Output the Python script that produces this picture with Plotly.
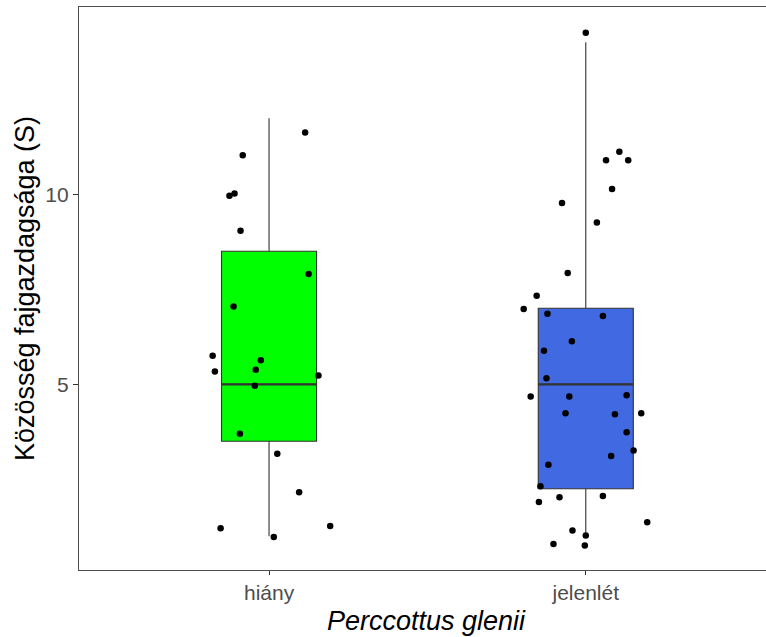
import plotly.graph_objects as go

# ---- data ----
categories = ["hiány", "jelenlét"]
box_colors = ["#00FF00", "#4169E1"]
q1 = [3.5, 2.25]
median = [5.0, 5.0]
q3 = [8.5, 7.0]
lower_whisker = [1.0, 1.0]
upper_whisker = [12.0, 14.0]

# jittered points (x offset from category centre, y value)
hiany_x = [0.114, -0.083, -0.125, -0.109, -0.090, 0.125, -0.112, -0.178, -0.171, -0.026,
           -0.042, -0.045, 0.156, -0.092, 0.026, 0.095, -0.153, 0.193, 0.015]
hiany_y = [11.63, 11.03, 9.96, 10.02, 9.04, 7.90, 7.05, 5.75, 5.34, 5.63,
           5.38, 4.96, 5.23, 3.70, 3.17, 2.16, 1.21, 1.27, 0.98]
jelen_x = [0.0, 0.106, 0.064, 0.134, 0.083, -0.075, 0.035, -0.057, -0.155, -0.196,
           -0.121, 0.054, -0.044, -0.132, -0.124, -0.174, -0.052, 0.129, -0.064, 0.092,
           0.175, 0.129, 0.151, 0.080, -0.118, -0.143, -0.148, -0.083, 0.054, 0.194,
           -0.042, 0.0, -0.102, -0.003]
jelen_y = [14.25, 11.12, 10.90, 10.90, 10.14, 9.77, 9.26, 7.93, 7.33, 6.98,
           6.86, 6.80, 6.13, 5.88, 5.16, 4.68, 4.68, 4.71, 4.24, 4.21,
           4.24, 3.74, 3.26, 3.11, 2.88, 2.32, 1.90, 2.03, 2.06, 1.37,
           1.15, 1.02, 0.80, 0.76]

y_ticks = [5, 10]
x_title = "Perccottus glenii"
y_title = "Közösség fajgazdagsága (S)"

BOX_W = 0.3
FONT = "Liberation Sans, Arial, sans-serif"

fig = go.Figure()
positions = [1, 2]
for i, cat in enumerate(categories):
    fig.add_trace(go.Box(
        x=[positions[i]], q1=[q1[i]], median=[median[i]], q3=[q3[i]],
        lowerfence=[lower_whisker[i]], upperfence=[upper_whisker[i]],
        width=BOX_W, whiskerwidth=0, fillcolor=box_colors[i],
        line=dict(color="#333333", width=1.1), boxpoints=False,
        name=cat, showlegend=False, hoverinfo="skip",
    ))
    # thicker median line (as ggplot)
    fig.add_trace(go.Scatter(
        x=[positions[i] - BOX_W / 2, positions[i] + BOX_W / 2],
        y=[median[i], median[i]], mode="lines",
        line=dict(color="#333333", width=2.2), showlegend=False, hoverinfo="skip",
    ))

fig.add_trace(go.Scatter(
    x=[positions[0] + d for d in hiany_x], y=hiany_y, mode="markers",
    marker=dict(color="black", size=6.5), showlegend=False,
))
fig.add_trace(go.Scatter(
    x=[positions[1] + d for d in jelen_x], y=jelen_y, mode="markers",
    marker=dict(color="black", size=6.5), showlegend=False,
))

fig.update_layout(
    width=766, height=637,
    margin=dict(l=79, r=0, t=7, b=67),
    paper_bgcolor="white", plot_bgcolor="white",
    font=dict(family=FONT),
    showlegend=False,
)
fig.update_xaxes(
    range=[0.4, 2.569], tickvals=positions, ticktext=categories,
    showgrid=False, zeroline=False,
    showline=True, linecolor="#4d4d4d", linewidth=1.3, mirror=True,
    ticks="outside", ticklen=4, tickcolor="#333333", tickwidth=1,
    tickfont=dict(size=21, color="#4d4d4d", family=FONT),
)
fig.update_yaxes(
    range=[0.113, 14.93], tickvals=y_ticks, ticktext=[str(v) for v in y_ticks],
    showgrid=False, zeroline=False,
    showline=True, linecolor="#4d4d4d", linewidth=1.3,
    ticks="outside", ticklen=5, tickcolor="#333333", tickwidth=1,
    tickfont=dict(size=21, color="#4d4d4d", family=FONT),
    title=dict(text=y_title, font=dict(size=27, color="black", family=FONT), standoff=2),
)
fig.add_annotation(
    text="<i>" + x_title + "</i>", xref="paper", yref="paper",
    x=0.5065, y=0, yshift=-34, xanchor="center", yanchor="top", showarrow=False,
    font=dict(size=27, color="black", family=FONT),
)

fig.write_html("out.html")
